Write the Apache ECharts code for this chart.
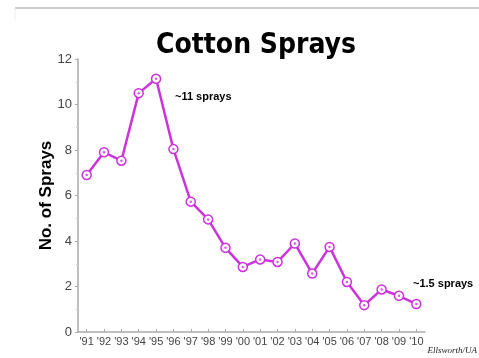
<!DOCTYPE html>
<html>
<head>
<meta charset="utf-8">
<script src="https://cdn.jsdelivr.net/npm/echarts@6/dist/echarts.min.js"></script>
<style>
  html, body { margin: 0; padding: 0; background: #fff; }
  #chart { width: 479px; height: 358px; }
</style>
</head>
<body>
<div id="chart"></div>
<script>
// 年份（类目轴）
const years = ["'91", "'92", "'93", "'94", "'95", "'96", "'97", "'98", "'99", "'00",
  "'01", "'02", "'03", "'04", "'05", "'06", "'07", "'08", "'09", "'10"]
// 每年喷药次数
const sprays = [6.9, 7.9, 7.53, 10.5, 11.13, 8.04, 5.73, 4.95, 3.7, 2.86,
  3.19, 3.08, 3.89, 2.57, 3.74, 2.2, 1.18, 1.87, 1.59, 1.23]
// y 轴刻度
const yTicks = [0, 2, 4, 6, 8, 10, 12]

const purple = '#CC33DD'
const chart = echarts.init(document.getElementById('chart'))
const option = {
  animation: false,
  title: {
    text: 'Cotton Sprays',
    left: 251,
    top: 27,
    textAlign: 'center',
    textStyle: {
      fontFamily: 'DejaVu Sans Condensed',
      fontWeight: 'bold',
      fontSize: 28,
      color: '#000'
    }
  },
  grid: {
    left: 78,
    right: 54,
    top: 59,
    bottom: 26
  },
  xAxis: {
    type: 'category',
    data: years,
    boundaryGap: true,
    axisLine: { lineStyle: { color: '#aaa', width: 1.5 } },
    axisTick: { show: true, alignWithLabel: true, length: -3, lineStyle: { color: '#aaa' } },
    axisLabel: {
      interval: 0,
      margin: 4,
      fontFamily: 'Liberation Sans',
      fontSize: 11,
      color: '#444'
    }
  },
  yAxis: {
    type: 'value',
    min: yTicks[0],
    max: yTicks[yTicks.length - 1],
    interval: 2,
    name: 'No. of Sprays',
    nameLocation: 'middle',
    nameGap: 23,
    nameMoveOverlap: false,
    nameTextStyle: {
      fontFamily: 'Liberation Sans',
      fontWeight: 'bold',
      fontSize: 17,
      color: '#000'
    },
    splitLine: { show: false },
    axisLine: { show: true, lineStyle: { color: '#aaa', width: 1.5 } },
    axisTick: { show: true, length: 3, lineStyle: { color: '#aaa' } },
    minorTick: { show: true, splitNumber: 2, length: 2, lineStyle: { color: '#ccc' } },
    axisLabel: {
      margin: 6,
      fontFamily: 'Liberation Sans',
      fontSize: 13,
      color: '#444'
    }
  },
  series: [
    {
      type: 'line',
      data: sprays,
      symbol: 'circle',
      symbolSize: 9,
      lineStyle: { color: purple, width: 2.5 },
      itemStyle: { color: '#fff', borderColor: purple, borderWidth: 1.5 },
      z: 2
    },
    {
      // 中心小点
      type: 'scatter',
      data: sprays,
      symbol: 'circle',
      symbolSize: 2.5,
      itemStyle: { color: purple },
      z: 3
    }
  ],
  graphic: [
    { type: 'line', shape: { x1: 15, y1: 8, x2: 479, y2: 8 }, style: { stroke: '#bbb', lineWidth: 1.5 } },
    { type: 'line', shape: { x1: 15, y1: 8, x2: 15, y2: 20 }, style: { stroke: '#eee', lineWidth: 1 } },
    {
      type: 'text', left: 175, top: 91,
      style: { text: '~11 sprays', font: 'bold 11px "Liberation Sans"', fill: '#000' }
    },
    {
      type: 'text', left: 413, top: 278,
      style: { text: '~1.5 sprays', font: 'bold 11px "Liberation Sans"', fill: '#000' }
    },
    {
      type: 'text', right: 2, top: 346,
      style: { text: 'Ellsworth/UA', font: 'italic 9px "Liberation Serif"', fill: '#222' }
    }
  ]
}
chart.setOption(option)
</script>
</body>
</html>
